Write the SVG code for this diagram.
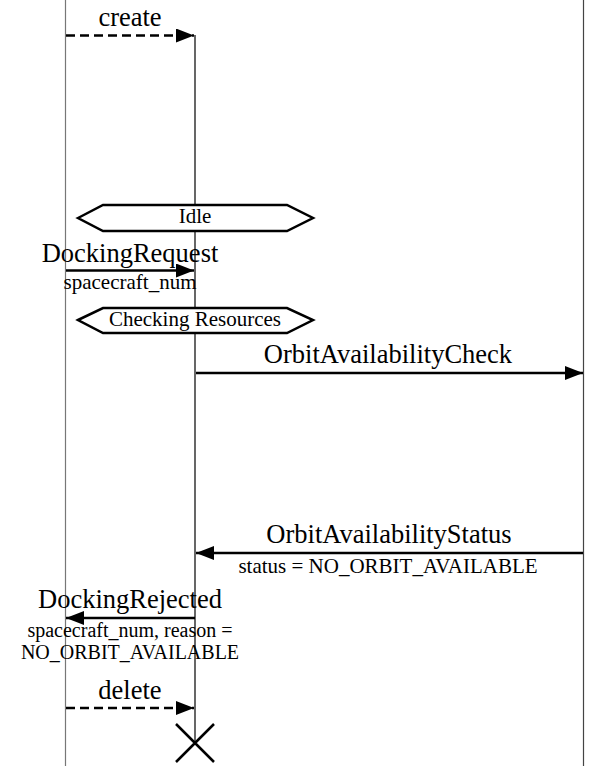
<svg xmlns="http://www.w3.org/2000/svg" width="589" height="766" viewBox="0 0 589 766">
  <style>
    .life { stroke-width: 1.2; fill: none; }
    .msg { stroke: #000; stroke-width: 2.5; fill: none; }
    .dash { stroke-dasharray: 9 5; }
    .state { fill: #fff; stroke: #000; stroke-width: 2.5; }
    .lbl { fill: #000; text-anchor: middle; }
    .big { font-size: 26.5px; }
    .small { font-size: 21px; }
    .tight { font-size: 20px; }
    .st { font-size: 21px; }
  </style>
  <defs>
    <marker id="head" viewBox="0 0 18 14" refX="18" refY="7" markerWidth="18" markerHeight="14" markerUnits="userSpaceOnUse" orient="auto">
      <path d="M0,0 L18,7 L0,14 Z" fill="#000"/>
    </marker>
  </defs>
  <rect width="589" height="766" fill="#fff"/>

  <!-- lifelines -->
  <g id="lifelines">
    <line class="life" x1="65.5" y1="0" x2="65.5" y2="766" stroke="#777"/>
    <line class="life" x1="195" y1="35" x2="195" y2="743" stroke="#000"/>
    <line class="life" x1="583.5" y1="0" x2="583.5" y2="766" stroke="#444"/>
  </g>

  <g font-family="Liberation Serif, Times New Roman, DejaVu Serif, serif">
  <!-- states -->
  <g id="state-idle">
    <polygon class="state" points="78,218 103,205 287,205 313,218 287,231 103,231"/>
    <text class="lbl st" x="195" y="223">Idle</text>
  </g>
  <g id="state-checking">
    <polygon class="state" points="78,320 103,308 287,308 313,320 287,333 103,333"/>
    <text class="lbl st" x="195" y="326">Checking Resources</text>
  </g>

  <!-- messages -->
  <g id="connectors">
    <g id="msg-create">
      <line class="msg dash" x1="66" y1="35.5" x2="194" y2="35.5" marker-end="url(#head)"/>
      <text class="lbl big" x="130" y="26">create</text>
    </g>
    <g id="msg-docking-request">
      <line class="msg" x1="66" y1="270.5" x2="194" y2="270.5" marker-end="url(#head)"/>
      <text class="lbl big" x="130" y="262">DockingRequest</text>
      <text class="lbl small" x="130" y="289">spacecraft_num</text>
    </g>
    <g id="msg-orbit-check">
      <line class="msg" x1="196" y1="373" x2="583" y2="373" marker-end="url(#head)"/>
      <text class="lbl big" x="388" y="363">OrbitAvailabilityCheck</text>
    </g>
    <g id="msg-orbit-status">
      <line class="msg" x1="583" y1="553" x2="196" y2="553" marker-end="url(#head)"/>
      <text class="lbl big" x="389" y="543">OrbitAvailabilityStatus</text>
      <text class="lbl small" x="388" y="573">status = NO_ORBIT_AVAILABLE</text>
    </g>
    <g id="msg-docking-rejected">
      <line class="msg" x1="195" y1="618" x2="66" y2="618" marker-end="url(#head)"/>
      <text class="lbl big" x="130" y="608">DockingRejected</text>
      <text class="lbl tight" x="130" y="637">spacecraft_num, reason =</text>
      <text class="lbl tight" x="130" y="659">NO_ORBIT_AVAILABLE</text>
    </g>
    <g id="msg-delete">
      <line class="msg dash" x1="66" y1="708" x2="194" y2="708" marker-end="url(#head)"/>
      <text class="lbl big" x="130" y="699">delete</text>
    </g>
  </g>
  </g>

  <!-- destruction mark -->
  <g id="destroy">
    <path d="M176,724 L214,762 M214,724 L176,762" stroke="#000" stroke-width="2.5" fill="none"/>
  </g>
</svg>
